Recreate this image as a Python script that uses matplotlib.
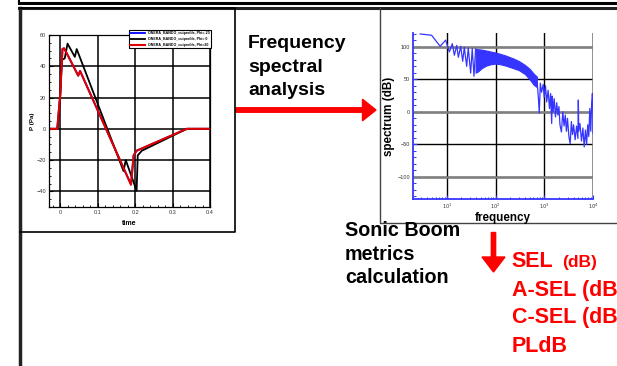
import matplotlib
matplotlib.use('Agg')
import matplotlib.pyplot as plt
from matplotlib.ticker import MultipleLocator, LogLocator, NullFormatter

plt.rcParams['font.family'] = ['Liberation Sans', 'DejaVu Sans']

# pressure signatures on the ground: time (s), overpressure (Pa)
t_phi_m20 = [-0.03, -0.008, 0.0, 0.006, 0.010, 0.017, 0.048, 0.053, 0.189, 0.196, 0.204, 0.338, 0.4]
p_phi_m20 = [0, 0, 22, 51, 51.5, 48.5, 34, 37, -35.7, -17, -14, 0, 0]
t_phi_0 = [-0.03, -0.007, 0.0, 0.004, 0.008, 0.012, 0.0195, 0.039, 0.044, 0.169, 0.175, 0.204, 0.207, 0.218, 0.338, 0.4]
p_phi_0 = [0, 0, 21, 44, 44.5, 45, 54.5, 46, 51, -27, -20, -39.6, -17, -14, 0, 0]
t_phi_20 = [-0.03, -0.008, 0.0, 0.006, 0.010, 0.017, 0.048, 0.053, 0.189, 0.196, 0.204, 0.338, 0.4]
p_phi_20 = [0, 0, 22, 51, 51.5, 48.5, 34, 37, -35.7, -17, -14, 0, 0]
series_labels = ['ONERA_BANDO_cutprofile, Phi=-20',
                 'ONERA_BANDO_cutprofile, Phi= 0',
                 'ONERA_BANDO_cutprofile, Phi=20']
time_ticks = [0, 0.1, 0.2, 0.3, 0.4]
time_ticklabels = ['0', '0.1', '0.2', '0.3', '0.4']

# spectrum (dB) - low frequency lobes
lf_freq = [2.85, 4.9, 7.3, 9.5, 11.3, 13.0, 14.3, 16.0, 17.3, 19.3, 21.2, 22.9,
           25.6, 27.6, 30.9, 33.3, 36.2, 39.0]
lf_db = [119.5, 117.5, 100.6, 110, 92, 104.6, 86.8, 102, 83.7, 100.6, 77.5, 99,
         69.8, 98, 59.5, 97, 54.5, 96.5]
# dense middle part, upper / lower envelope
band_freq = [39, 44, 52, 65, 80, 100, 125, 160, 230, 300, 400, 500, 600, 700]
band_hi = [96.5, 96, 95.5, 94, 92.5, 91, 89, 86.5, 82, 78, 72, 66, 59, 54]
band_lo = [60, 62, 67, 71, 73, 74, 73, 71, 67, 64, 58, 50, 42, 38]
# high frequency part
hf_freq = [700, 760, 790, 830, 880, 950, 1000, 1060, 1120, 1200, 1280, 1350, 1420,
           1460, 1520, 1600, 1700, 1800, 1900, 2000, 2100, 2250, 2400, 2550, 2700,
           2850, 3000, 3200, 3400, 3600, 3800, 4000, 4300, 4600, 4900, 5000, 5100,
           5400, 5800, 6200, 6600, 7000, 7400, 7800, 8200, 8600, 9000, 9400, 9700,
           9900, 10000]
hf_db = [54, 20, -2, 44, 30, 42, 22, 40, 15, 33, 5, 28, -18,
         24, 0, 20, -8, 14, -5, 8, -20, -31, 0, -22, -5,
         -30, -10, -38, -49, -15, -35, -20, -43, -22, -41, 18, -30,
         -18, -45, -25, -54, -28, -50, -20, -38, 5, -30, 15, 28,
         20, -33]
freq_ticks = [10, 100, 1000, 10000]
freq_ticklabels = ['$10^1$', '$10^2$', '$10^3$', '$10^4$']

metrics = ['A-SEL (dB)', 'C-SEL (dB)', 'PLdB']

RED = '#ff0000'
BLUE = '#3535ff'

fig = plt.figure(figsize=(6.17, 3.66), dpi=100)

# page layer in pixel units (frames, arrows, captions)
ov = fig.add_axes([0, 0, 1, 1], zorder=0)
ov.set_xlim(0, 617)
ov.set_ylim(366, 0)
ov.axis('off')

ov.plot([19, 617], [2.5, 2.5], color='black', lw=2.2)
ov.plot([19, 19], [0, 3], color='black', lw=1.5)
ov.plot([19, 617], [8, 8], color='#222222', lw=2.2)
ov.plot([20, 20], [8, 366], color='#222222', lw=2.5)
ov.plot([20, 235, 235, 20], [8, 8, 232, 232], color='black', lw=1.2)
ov.plot([380, 380, 617], [8, 223, 223], color='#444444', lw=1.0)

ov.arrow(236, 110, 140, 0, width=4.5, head_width=21.5, head_length=13.5,
         length_includes_head=True, color=RED)
ov.arrow(493.5, 232.5, 0, 39.5, width=4.3, head_width=23, head_length=15,
         length_includes_head=True, color=RED)

for s, y in zip(['Frequency', 'spectral', 'analysis'], [48.3, 71.7, 95]):
    ov.text(248, y, s, fontsize=14, fontweight='bold', va='baseline')
for s, y in zip(['Sonic Boom', 'metrics', 'calculation'], [236, 260, 283.3]):
    ov.text(345, y, s, fontsize=14.2, fontweight='bold', va='baseline')

ov.text(511.7, 266.7, 'SEL', fontsize=15.5, fontweight='bold', color=RED, va='baseline')
ov.text(561.7, 266.7, '(dB)', fontsize=12.5, fontweight='bold', color=RED, va='baseline')
for s, y in zip(metrics, [295.7, 323.3, 351.7]):
    ov.text(511.7, y, s, fontsize=15.5, fontweight='bold', color=RED, va='baseline')

# pressure signature plot
ax1 = fig.add_axes([49 / 617, 1 - 207 / 366, 161 / 617, 172 / 366], zorder=1)
ax1.plot(t_phi_m20, p_phi_m20, color='#0000ff', lw=1.3, label=series_labels[0])
ax1.plot(t_phi_0, p_phi_0, color='black', lw=1.3, label=series_labels[1])
ax1.plot(t_phi_20, p_phi_20, color='#e00000', lw=1.5, label=series_labels[2])
ax1.set_xlim(-0.03, 0.4)
ax1.set_ylim(-50, 60)
ax1.set_xticks(time_ticks, time_ticklabels)
ax1.xaxis.set_minor_locator(MultipleLocator(0.02))
ax1.yaxis.set_major_locator(MultipleLocator(20))
ax1.yaxis.set_minor_locator(MultipleLocator(5))
ax1.set_axisbelow(True)
ax1.grid(which='major', color='black', lw=1.1)
ax1.tick_params(which='major', direction='in', length=3, width=0.8,
                labelsize=4, labelcolor='#333333', pad=2)
ax1.tick_params(which='minor', direction='in', length=1.5, width=0.6)
for sp in ax1.spines.values():
    sp.set_linewidth(0.9)
ax1.set_xlabel('time', fontsize=5, fontweight='bold')
ax1.set_ylabel('P (Pa)', fontsize=4.5, fontweight='bold')
ax1.xaxis.set_label_coords(0.497, -0.076)
ax1.yaxis.set_label_coords(-0.087, 0.5)
leg = ax1.legend(loc='upper right', bbox_to_anchor=(1.006, 1.03),
                 prop={'size': 2.6, 'weight': 'bold'}, frameon=True, fancybox=False,
                 edgecolor='black', framealpha=1, handlelength=4.2, labelspacing=0.55,
                 borderpad=0.3, handletextpad=0.8, borderaxespad=0)
leg.get_frame().set_linewidth(0.8)

# spectrum plot
ax2 = fig.add_axes([412.7 / 617, 1 - 199 / 366, 180.3 / 617, 166 / 366], zorder=1)
ax2.set_xscale('log')
ax2.fill_between(band_freq, band_lo, band_hi, color=BLUE, lw=0.8)
ax2.plot(lf_freq, lf_db, color=BLUE, lw=0.9)
ax2.plot(hf_freq, hf_db, color=BLUE, lw=0.9)
ax2.set_xlim(2, 10000)
ax2.set_ylim(-134, 121)
ax2.set_xticks(freq_ticks, freq_ticklabels)
ax2.xaxis.set_minor_locator(LogLocator(base=10, subs=range(2, 10)))
ax2.xaxis.set_minor_formatter(NullFormatter())
ax2.yaxis.set_major_locator(MultipleLocator(50))
ax2.yaxis.set_minor_locator(MultipleLocator(10))
ax2.set_axisbelow(True)
ax2.grid(which='major', color='black', lw=1.0)
for y in [100, 0, -100]:
    ax2.axhline(y, color='#808080', lw=1.8, zorder=0.6)
ax2.axvline(10000, color='#808080', lw=1.8, zorder=0.6)
ax2.spines['top'].set_visible(False)
ax2.spines['right'].set_visible(False)
for side in ['left', 'bottom']:
    ax2.spines[side].set_color(BLUE)
    ax2.spines[side].set_linewidth(1.3)
ax2.tick_params(which='major', direction='in', length=3, width=0.8, color=BLUE,
                labelsize=4, labelcolor='#333333', pad=2)
ax2.tick_params(axis='x', which='major', labelsize=3.6)
ax2.tick_params(which='minor', direction='in', length=1.8, width=0.7, color=BLUE)
ax2.set_xlabel('frequency', fontsize=8.4, fontweight='bold')
ax2.set_ylabel('spectrum (dB)', fontsize=8.4, fontweight='bold')
ax2.xaxis.set_label_coords(0.5, -0.078)
ax2.yaxis.set_label_coords(-0.098, 0.5)

fig.savefig('out.png', dpi=100)
